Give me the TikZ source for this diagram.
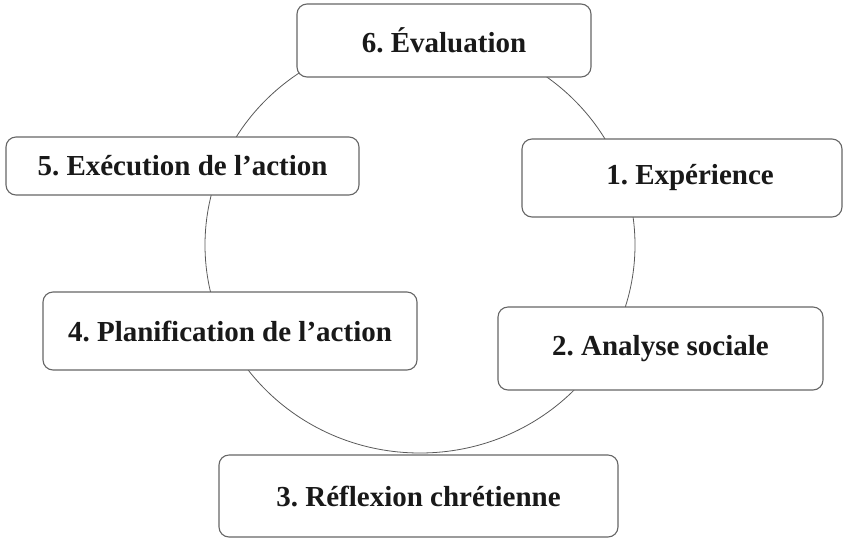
\documentclass[tikz,border=0pt]{standalone}
\usepackage{fontspec}
\setmainfont{Liberation Serif}
\frenchspacing
\begin{document}
\begin{tikzpicture}[x=1pt,y=-1pt,
    etape/.style={draw=black!60, line width=1.1pt, fill=white, rounded corners=10pt,
      inner sep=0pt, text=black!90, font=\fontsize{29}{33}\selectfont\bfseries}]
    \useasboundingbox (0,0) rectangle (843,539);
    \draw[black!65, line width=0.8pt] (420,245) ellipse [x radius=215, y radius=208];
    \node[etape, minimum width=294pt, minimum height=73pt] (evaluation) at (444,40.5) {6. Évaluation};
    \node[etape, minimum width=320pt, minimum height=78pt] (experience) at (682,178) {\hspace*{16pt}1. Expérience};
    \node[etape, minimum width=325pt, minimum height=83pt] (analyse) at (660.5,348.5) {2. Analyse sociale};
    \node[etape, minimum width=399pt, minimum height=82pt] (reflexion) at (418.5,496) {3. Réflexion chrétienne};
    \node[etape, minimum width=374pt, minimum height=78pt] (planification) at (230,331) {4. Planification de l’action};
    \node[etape, minimum width=353pt, minimum height=58pt] (execution) at (182.5,166) {5. Exécution de l’action};
  \end{tikzpicture}
\end{document}
